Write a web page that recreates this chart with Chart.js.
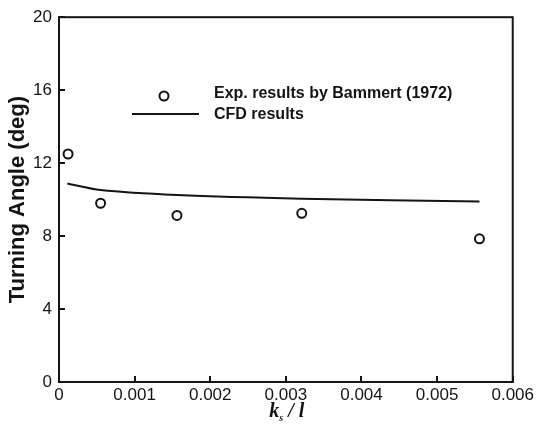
<!DOCTYPE html>
<html>
<head>
<meta charset="utf-8">
<script src="https://cdn.jsdelivr.net/npm/chart.js@4.4.1/dist/chart.umd.min.js"></script>
<style>
html,body{margin:0;padding:0;background:#fff;}
#wrap{width:537px;height:424px;position:relative;}
</style>
</head>
<body>
<div id="wrap"><canvas id="c" width="537" height="424"></canvas></div>
<script>
// Data
const expX = [0.00012, 0.00055, 0.00156, 0.00321, 0.00556];
const expY = [12.5, 9.8, 9.13, 9.25, 7.85];
const cfdX = [0.00011, 0.00055, 0.00156, 0.00321, 0.00556];
const cfdY = [10.88, 10.52, 10.25, 10.05, 9.9];
const xTickLabels = ['0', '0.001', '0.002', '0.003', '0.004', '0.005', '0.006'];
const yTickLabels = ['0', '4', '8', '12', '16', '20'];
const seriesNames = ['Exp. results by Bammert (1972)', 'CFD results'];
const yTitle = 'Turning Angle (deg)';

const INK = '#141414';
const FONT = '"Liberation Sans", Arial, sans-serif';

const decor = {
  id: 'decor',
  afterDraw(chart) {
    const ctx = chart.ctx;
    const a = chart.chartArea;
    const xs = chart.scales.x, ys = chart.scales.y;
    ctx.save();
    ctx.strokeStyle = INK;
    ctx.lineWidth = 2;
    ctx.strokeRect(a.left, a.top, a.right - a.left, a.bottom - a.top);
    // inside ticks
    xs.ticks.forEach(t => {
      const px = Math.round(xs.getPixelForValue(t.value));
      ctx.beginPath(); ctx.moveTo(px, a.bottom); ctx.lineTo(px, a.bottom - 6); ctx.stroke();
    });
    ys.ticks.forEach(t => {
      const py = Math.round(ys.getPixelForValue(t.value));
      ctx.beginPath(); ctx.moveTo(a.left, py); ctx.lineTo(a.left + 6, py); ctx.stroke();
    });
    // legend
    ctx.fillStyle = INK;
    ctx.font = 'bold 16px ' + FONT;
    ctx.textBaseline = 'middle';
    ctx.textAlign = 'left';
    ctx.beginPath();
    ctx.arc(164, 96, 4.5, 0, Math.PI * 2);
    ctx.lineWidth = 2;
    ctx.stroke();
    ctx.fillText(seriesNames[0], 214, 94);
    ctx.beginPath(); ctx.moveTo(132, 114); ctx.lineTo(199, 114); ctx.stroke();
    ctx.fillText(seriesNames[1], 214, 115);
    // y title
    ctx.save();
    ctx.translate(18, (a.top + a.bottom) / 2);
    ctx.rotate(-Math.PI / 2);
    ctx.textAlign = 'center';
    ctx.textBaseline = 'middle';
    ctx.font = 'bold 22px ' + FONT;
    ctx.fillText(yTitle, 0, 0);
    ctx.restore();
    // x title: k_s / l
    ctx.textBaseline = 'alphabetic';
    const serif = '"Liberation Serif", "Times New Roman", serif';
    const cx = (a.left + a.right) / 2 + 1;
    const base = 417;
    ctx.font = 'bold italic 20px ' + serif;
    const wk = ctx.measureText('k').width;
    ctx.font = 'bold italic 10px ' + serif;
    const ws = ctx.measureText('s').width;
    ctx.font = 'bold italic 20px ' + serif;
    const wrest = ctx.measureText(' / l').width;
    let x0 = cx - (wk + ws + wrest) / 2;
    ctx.fillText('k', x0, base);
    ctx.font = 'bold italic 10px ' + serif;
    ctx.fillText('s', x0 + wk, base + 4);
    ctx.font = 'bold italic 20px ' + serif;
    ctx.fillText(' / l', x0 + wk + ws, base);
    ctx.restore();
  }
};

new Chart(document.getElementById('c'), {
  type: 'scatter',
  data: {
    datasets: [
      {
        label: seriesNames[0],
        data: expX.map((x, i) => ({x, y: expY[i]})),
        showLine: false,
        pointStyle: 'circle',
        pointRadius: 4.5,
        pointBorderWidth: 2,
        pointBorderColor: INK,
        pointBackgroundColor: 'rgba(255,255,255,0)'
      },
      {
        label: seriesNames[1],
        data: cfdX.map((x, i) => ({x, y: cfdY[i]})),
        showLine: true,
        borderColor: INK,
        borderWidth: 2,
        pointRadius: 0,
        tension: 0.3
      }
    ]
  },
  options: {
    responsive: false,
    animation: false,
    devicePixelRatio: 1,
    layout: { padding: { left: 0, right: 24, top: 17, bottom: 0 } },
    plugins: { legend: { display: false }, tooltip: { enabled: false } },
    scales: {
      x: {
        type: 'linear', min: 0, max: 0.006,
        grid: { display: false, drawTicks: false },
        border: { display: false },
        afterBuildTicks(s) { s.ticks = xTickLabels.map(v => ({value: parseFloat(v)})); },
        afterFit(s) { s.height = 42; },
        ticks: {
          color: INK, padding: 3, maxRotation: 0,
          font: { family: FONT, size: 17 },
          callback: (v, i) => xTickLabels[i]
        }
      },
      y: {
        type: 'linear', min: 0, max: 20,
        grid: { display: false, drawTicks: false },
        border: { display: false },
        afterBuildTicks(s) { s.ticks = yTickLabels.map(v => ({value: parseFloat(v)})); },
        afterFit(s) { s.width = 59; },
        ticks: {
          color: INK, padding: 7,
          font: { family: FONT, size: 17 },
          callback: (v, i) => yTickLabels[i]
        }
      }
    }
  },
  plugins: [decor]
});
</script>
</body>
</html>
